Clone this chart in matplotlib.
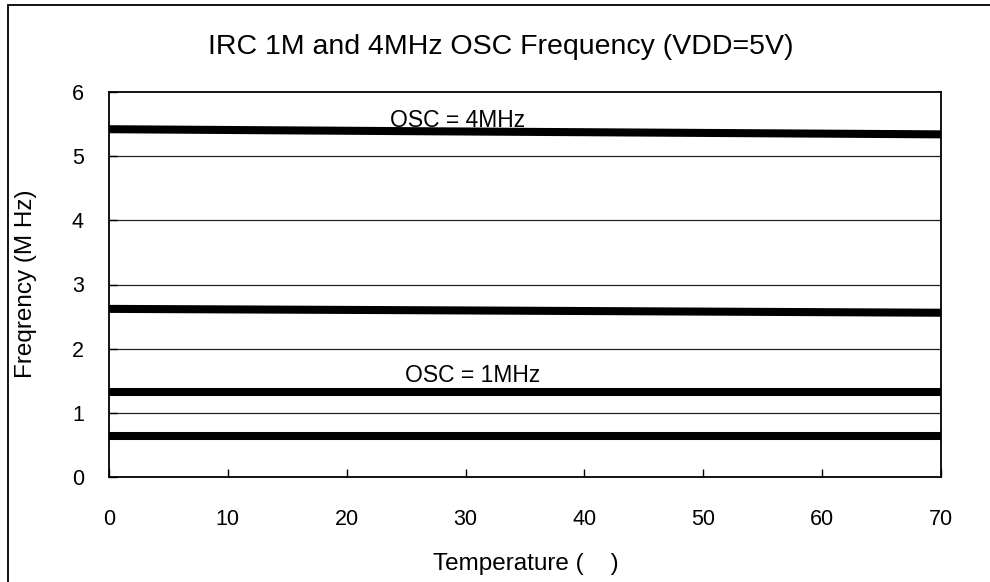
import matplotlib
matplotlib.use('Agg')
import matplotlib.pyplot as plt
from matplotlib.patches import Rectangle

plt.rcParams['font.family'] = ['Liberation Sans', 'DejaVu Sans']

temp = [0, 25, 70]
irc_4m_a = [5.42, 5.39, 5.34]
irc_4m_b = [2.62, 2.60, 2.56]
irc_1m_a = [1.33, 1.33, 1.33]
irc_1m_b = [0.64, 0.64, 0.64]

fig = plt.figure(figsize=(9.9, 5.82), dpi=100)
ax = fig.add_axes([109/990, 105/582, 832/990, 385/582])

for ys in (irc_4m_a, irc_4m_b, irc_1m_a, irc_1m_b):
    ax.plot(temp, ys, color='black', lw=5.8, solid_capstyle='butt', zorder=3)

ax.set_xlim(0, 70)
ax.set_ylim(0, 6)
ax.set_xticks(range(0, 71, 10))
ax.set_yticks(range(0, 7))
for y in range(1, 6):
    ax.axhline(y, color='#222222', lw=0.9, zorder=1)

ax.tick_params(axis='both', direction='in', length=6, width=1, labelsize=15.5)
ax.tick_params(axis='x', pad=23)
ax.tick_params(axis='y', pad=18)
for s in ax.spines.values():
    s.set_linewidth(1.3)

ax.text(23.6, 5.46, 'OSC = 4MHz', fontsize=16.5, va='baseline')
ax.text(24.9, 1.48, 'OSC = 1MHz', fontsize=16.5, va='baseline')

fig.text(501/990, 1 - 47/582, 'IRC 1M and 4MHz OSC Frequency (VDD=5V)',
         fontsize=20.5, ha='center', va='center')
fig.text(526/990, 1 - 564/582, 'Temperature (    )', fontsize=17.5,
         ha='center', va='center')
fig.text(26/990, 1 - 284/582, 'Freqrency (M Hz)', fontsize=17.5,
         ha='center', va='center', rotation=90)

# outer frame (bottom and right are cut off in the original)
fig.patches.append(Rectangle((8/990, -0.1), 1.2, (577 + 58)/582, transform=fig.transFigure,
                             fill=False, edgecolor='black', lw=1.3))

fig.savefig('out.png', dpi=100)
